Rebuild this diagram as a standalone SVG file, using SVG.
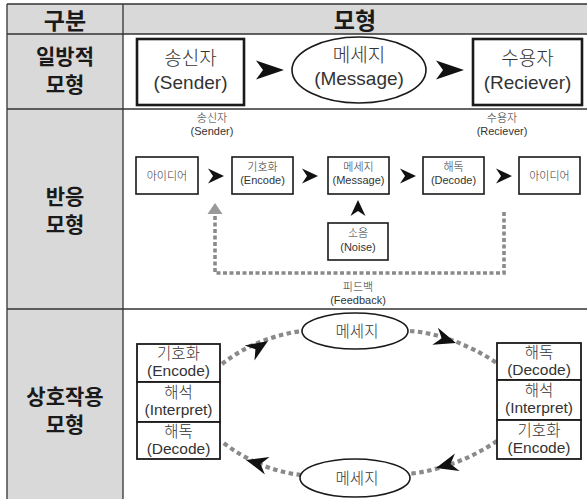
<svg xmlns="http://www.w3.org/2000/svg" width="587" height="499" viewBox="0 0 587 499">
<style>
text{font-family:"Liberation Sans","Noto Sans CJK KR",sans-serif;text-anchor:middle;fill:#1a1a1a}
.hd{font-size:23px;font-weight:bold}
.lb{font-size:21px;font-weight:bold}
.t1{font-size:19px;fill:#333;font-weight:300}
.t2{font-size:11px;fill:#333;font-weight:300}
.t3{font-size:15.5px;fill:#333;font-weight:300}
.grid{stroke:#333;stroke-width:1.3;fill:none}
.b1{fill:#fff;stroke:#1a1a1a;stroke-width:2.6}
.b2{fill:#fff;stroke:#1a1a1a;stroke-width:1.6}
.b3{fill:#fff;stroke:#1a1a1a;stroke-width:1.8}
.dot{fill:none;stroke:#8a8a8a;stroke-width:3.6;stroke-dasharray:4 2.5}
.dot3{fill:none;stroke:#8a8a8a;stroke-width:4.2;stroke-dasharray:4.5 3.5}
.ah{fill:#111}
</style>
<defs>
<path id="ahL" d="M0,0 L-28,-9.5 L-21,0 L-28,9.5 Z"/>
<path id="ahS" d="M0,0 L-16,-7.5 L-11,0 L-16,7.5 Z"/>
<path id="ahM" d="M0,0 L-22,-9 L-15,0 L-22,9 Z"/>
</defs>
<g id="table">
<rect x="7" y="4" width="590" height="30" fill="#d9d9d9"/>
<rect x="7" y="34" width="116" height="470" fill="#d9d9d9"/>
<rect x="123" y="34" width="470" height="470" fill="#fff"/>
<path class="grid" d="M7,4 H587 M7,34 H587 M7,109 H587 M7,309 H587 M7,4 V499 M123,4 V499"/>
<text class="hd" x="65" y="29">구분</text>
<text class="hd" x="355" y="29">모형</text>
<text class="lb" x="65" y="64">일방적</text>
<text class="lb" x="65" y="92">모형</text>
<text class="lb" x="65" y="204">반응</text>
<text class="lb" x="65" y="232">모형</text>
<text class="lb" x="65" y="404">상호작용</text>
<text class="lb" x="65" y="432">모형</text>
</g>
<g id="connectors">
<use href="#ahL" class="ah" transform="translate(284,70)"/>
<use href="#ahL" class="ah" transform="translate(464,70)"/>
<use href="#ahS" class="ah" transform="translate(224,176)"/>
<use href="#ahS" class="ah" transform="translate(318,176)"/>
<use href="#ahS" class="ah" transform="translate(416,176)"/>
<use href="#ahS" class="ah" transform="translate(512,176)"/>
<use href="#ahS" class="ah" transform="translate(358,200) rotate(-90)"/>
<path class="dot" d="M504,212 V273 H215 V214"/>
<path d="M215,203 L207.5,214 L222.5,214 Z" fill="#999"/>
<path class="dot3" d="M222,364 Q255,338 301,331"/>
<path class="dot3" d="M410,331 Q452,334 497,363"/>
<path class="dot3" d="M301,475 Q258,470 221,441"/>
<path class="dot3" d="M497,441 Q457,468 409,474"/>
<use href="#ahM" class="ah" transform="translate(268,341) rotate(-33)"/>
<use href="#ahM" class="ah" transform="translate(456,343) rotate(18)"/>
<use href="#ahM" class="ah" transform="translate(246,460) rotate(-165)"/>
<use href="#ahM" class="ah" transform="translate(436,468) rotate(165)"/>
</g>
<g id="sender">
<rect class="b1" x="137" y="39" width="107" height="66"/>
<text class="t1" x="190.5" y="65">송신자</text>
<text class="t1" x="190.5" y="89">(Sender)</text>
</g>
<g id="message">
<ellipse class="b2" cx="359" cy="70" rx="67" ry="33"/>
<text class="t1" x="359" y="62">메세지</text>
<text class="t1" x="359" y="85">(Message)</text>
</g>
<g id="receiver">
<rect class="b1" x="473" y="39" width="109" height="66"/>
<text class="t1" x="527.5" y="65">수용자</text>
<text class="t1" x="527.5" y="89">(Reciever)</text>
</g>
<g id="label-sender">
<text class="t2" x="212" y="122">송신자</text>
<text class="t2" x="212" y="135">(Sender)</text>
</g>
<g id="label-receiver">
<text class="t2" x="502" y="122">수용자</text>
<text class="t2" x="502" y="135">(Reciever)</text>
</g>
<g id="idea1">
<rect class="b2" x="136" y="157" width="62" height="37"/>
<text class="t2" x="167" y="180">아이디어</text>
</g>
<g id="encode">
<rect class="b2" x="232" y="157" width="61" height="37"/>
<text class="t2" x="262.5" y="171">기호화</text>
<text class="t2" x="262.5" y="184">(Encode)</text>
</g>
<g id="message2">
<rect class="b2" x="328" y="157" width="61" height="37"/>
<text class="t2" x="358.5" y="171">메세지</text>
<text class="t2" x="358.5" y="184">(Message)</text>
</g>
<g id="decode">
<rect class="b2" x="423" y="157" width="61" height="37"/>
<text class="t2" x="453.5" y="171">해독</text>
<text class="t2" x="453.5" y="184">(Decode)</text>
</g>
<g id="idea2">
<rect class="b2" x="519" y="157" width="61" height="37"/>
<text class="t2" x="549.5" y="180">아이디어</text>
</g>
<g id="noise">
<rect class="b2" x="328" y="223" width="60" height="37"/>
<text class="t2" x="358" y="237">소음</text>
<text class="t2" x="358" y="251">(Noise)</text>
</g>
<g id="feedback">
<text class="t2" x="358" y="291">피드백</text>
<text class="t2" x="358" y="304">(Feedback)</text>
</g>
<g id="left-stack">
<rect class="b3" x="137" y="344" width="83" height="38"/>
<rect class="b3" x="137" y="382" width="83" height="40"/>
<rect class="b3" x="137" y="422" width="83" height="37"/>
<text class="t3" x="178.5" y="359">기호화</text>
<text class="t3" x="178.5" y="376">(Encode)</text>
<text class="t3" x="178.5" y="398">해석</text>
<text class="t3" x="178.5" y="415">(Interpret)</text>
<text class="t3" x="178.5" y="437">해독</text>
<text class="t3" x="178.5" y="454">(Decode)</text>
</g>
<g id="right-stack">
<rect class="b3" x="497" y="343" width="84" height="37"/>
<rect class="b3" x="497" y="380" width="84" height="40"/>
<rect class="b3" x="497" y="420" width="84" height="39"/>
<text class="t3" x="539" y="358">해독</text>
<text class="t3" x="539" y="375">(Decode)</text>
<text class="t3" x="539" y="396">해석</text>
<text class="t3" x="539" y="413">(Interpret)</text>
<text class="t3" x="539" y="436">기호화</text>
<text class="t3" x="539" y="453">(Encode)</text>
</g>
<g id="msg-top">
<ellipse class="b2" cx="355" cy="331" rx="53" ry="18"/>
<text class="t3" x="357" y="337">메세지</text>
</g>
<g id="msg-bottom">
<ellipse class="b2" cx="355" cy="478" rx="55" ry="19"/>
<text class="t3" x="357" y="484">메세지</text>
</g>
</svg>
